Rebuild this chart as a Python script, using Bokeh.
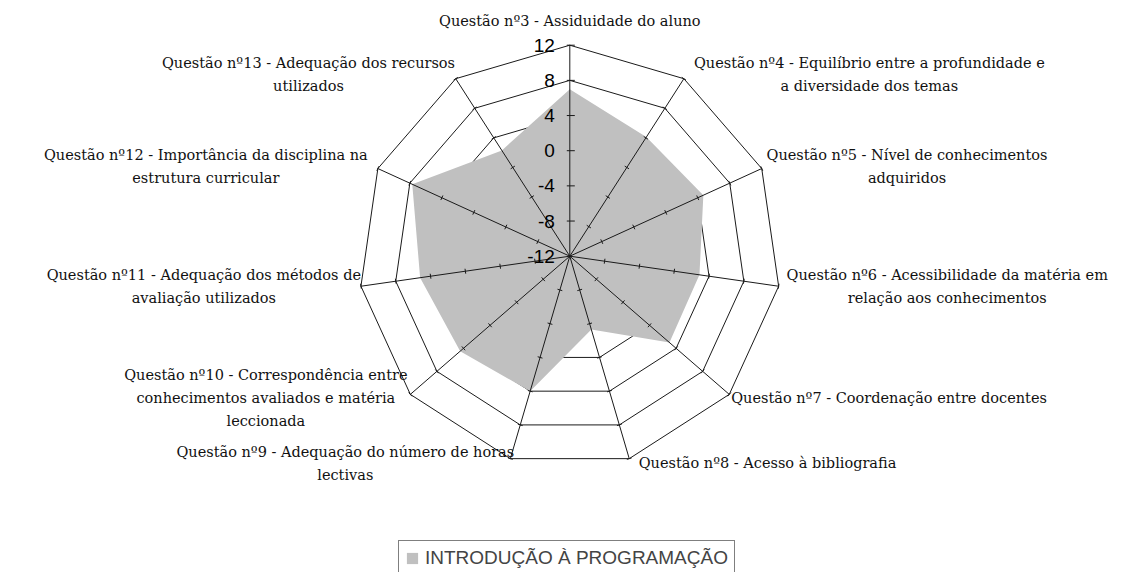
import numpy as np
from bokeh.plotting import figure
from bokeh.models import Range1d
from bokeh.core.properties import value
from bokeh.embed import file_html
from bokeh.resources import INLINE

# ---------------- data ----------------
categories = [
    "Questão nº3 - Assiduidade do aluno",
    "Questão nº4 - Equilíbrio entre a profundidade e\na diversidade dos temas",
    "Questão nº5 - Nível de conhecimentos\nadquiridos",
    "Questão nº6 - Acessibilidade da matéria em\nrelação aos conhecimentos",
    "Questão nº7 - Coordenação entre docentes",
    "Questão nº8 - Acesso à bibliografia",
    "Questão nº9 - Adequação do número de horas\nlectivas",
    "Questão nº10 - Correspondência entre\nconhecimentos avaliados e matéria\nleccionada",
    "Questão nº11 - Adequação dos métodos de\navaliação utilizados",
    "Questão nº12 - Importância da disciplina na\nestrutura curricular",
    "Questão nº13 - Adequação dos recursos\nutilizados",
]
scores = [7.0, 4.1, 4.7, 2.9, 3.0, -3.3, 4.0, 4.5, 5.2, 7.7, 2.3]
tick_values = [-12, -8, -4, 0, 4, 8, 12]
tick_labels = ["-12", "-8", "-4", "0", "4", "8", "12"]
series_name = "INTRODUÇÃO À PROGRAMAÇÃO"

# ---------------- layout ----------------
W, H = 1117, 572
CX, CY = 569.3, 255.7      # centre of the radar, canvas pixels
R_PX = 211.0               # outer radius in pixels
vmin, vmax = tick_values[0], tick_values[-1]
span = vmax - vmin
s = R_PX / span            # pixels per value unit
LINE_C = "#1a1a1a"
FONT_PX = 14.5
CHAR_W = 7.65
LINE_H = 23.0
TOP_PAD = 24.7

p = figure(width=W, height=H, output_backend="svg", toolbar_location=None,
           x_range=Range1d(-CX / s, (W - CX) / s),
           y_range=Range1d(-(H - CY) / s, CY / s),
           x_axis_type=None, y_axis_type=None, min_border=0,
           outline_line_color=None)
p.background_fill_color = "white"
p.border_fill_color = "white"

n = len(categories)
theta = np.arange(n) * 2 * np.pi / n
sn, cs = np.sin(theta), np.cos(theta)

# grid rings
ring_xs, ring_ys = [], []
for t in tick_values[1:]:
    r = t - vmin
    ring_xs.append(list(r * sn) + [r * sn[0]])
    ring_ys.append(list(r * cs) + [r * cs[0]])
p.multi_line(ring_xs, ring_ys, line_color=LINE_C, line_width=1)

# data area
r_sc = np.array(scores) - vmin
p.patch(r_sc * sn, r_sc * cs, fill_color="#C0C0C0", line_color=None,
        legend_label=series_name)

# spokes
p.segment(np.zeros(n), np.zeros(n), span * sn, span * cs,
          line_color=LINE_C, line_width=1)

# tick marks
tx0, ty0, tx1, ty1 = [], [], [], []
for k in range(n):
    ux, uy = cs[k], -sn[k]
    a, b = (-3.0, 5.0) if k == 0 else (-2.5, 2.5)
    for t in tick_values[1:]:
        r = t - vmin
        px, py = r * sn[k], r * cs[k]
        tx0.append(px + a / s * ux); ty0.append(py + a / s * uy)
        tx1.append(px + b / s * ux); ty1.append(py + b / s * uy)
p.segment(tx0, ty0, tx1, ty1, line_color=LINE_C, line_width=1)

# value axis labels
p.text(x=[-15.0 / s] * len(tick_values), y=[t - vmin for t in tick_values],
       text=tick_labels, text_font=value("Liberation Sans"),
       text_font_size="19px", text_align="right", text_baseline="middle",
       text_color="black")

# category labels
lx, ly, lt = [], [], []
for k in range(n):
    lines = categories[k].split("\n")
    vx, vy = R_PX * sn[k], R_PX * cs[k]
    if abs(sn[k]) < 0.1:
        bx, by = vx, vy + np.sign(cs[k]) * TOP_PAD
    else:
        est_w = max(len(l) for l in lines) * CHAR_W
        gap = 3 + 5 * abs(sn[k])
        bx = vx + np.sign(sn[k]) * (gap + est_w / 2)
        by = vy + 5 * cs[k]
    m = len(lines)
    for i, line in enumerate(lines):
        lx.append(bx / s)
        ly.append((by + ((m - 1) / 2 - i) * LINE_H) / s)
        lt.append(line)
p.text(lx, ly, text=lt, text_font=value("DejaVu Serif"),
       text_font_size=f"{FONT_PX}px",
       text_align="center", text_baseline="middle", text_color="#111111")

# legend
leg = p.legend[0]
leg.location = (398, -4)
leg.label_text_font = "Liberation Sans"
leg.label_text_font_size = "19px"
leg.glyph_width = 14
leg.glyph_height = 14
leg.label_standoff = 6
leg.padding = 6
leg.margin = 0
leg.spacing = 0
leg.label_height = 20
leg.border_line_color = "black"
leg.border_line_width = 1
leg.background_fill_color = "white"
leg.background_fill_alpha = 1.0

open("out.html", "w").write(file_html(p, INLINE))
